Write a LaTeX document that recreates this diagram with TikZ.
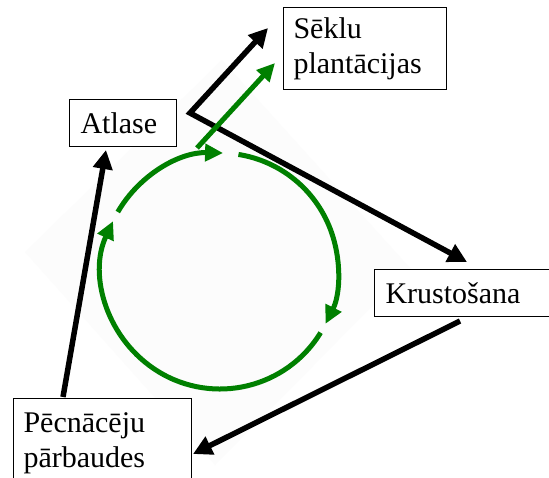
\documentclass[tikz,border=0pt]{standalone}
\usepackage{fontspec}
\setmainfont{Liberation Serif}
\usetikzlibrary{arrows.meta,calc}
\definecolor{cyclegreen}{RGB}{0,128,0}
\tikzset{
  box/.style={draw=black, line width=1pt, fill=white, inner ysep=0pt,
    font=\fontsize{30}{35}\selectfont},
  blk/.style={draw=black, line width=5.5pt, line join=miter,
    arrows={-Triangle[length=19pt,width=19pt]}},
  grn/.style={draw=cyclegreen, line width=5pt,
    arrows={-Triangle[length=18pt,width=17pt]}},
}
\begin{document}
\begin{tikzpicture}[x=1pt,y=-1pt]
\useasboundingbox (0,0) rectangle (549,477);
\clip (0,0) rectangle (549,477);
\fill[white] (0,0) rectangle (549,477);

% faint backdrop behind the cycle
\fill[black!1.2] (25,252) -- (222,60) -- (410,268) -- (215,465) -- cycle;

% stage boxes
\node[box, anchor=north west, minimum width=163pt, minimum height=82pt,
  text width=143pt, inner xsep=10pt, align=left] (seed) at (283,7)
  {Sēklu\\plantācijas};
\node[box, anchor=north west, minimum width=107pt, minimum height=47pt,
  text width=85pt, inner xsep=11pt, align=left] (atl) at (69,99) {Atlase};
\node[box, anchor=north west, minimum width=180pt, minimum height=47pt,
  text width=158pt, inner xsep=11pt, align=left] (krs) at (374,269)
  {Krustošana};
\node[box, anchor=north west, minimum width=178pt, minimum height=90pt,
  text width=158pt, inner xsep=10pt, align=left] (pec) at (13,398)
  {Pēcnācēju\\pārbaudes};

% breeding cycle
\coordinate (cc) at (220,271);
\draw[grn] ($(cc)+(-150:118)$) arc[start angle=-150, end angle=-88.5, radius=118];
\draw[grn] ($(cc)+(-81:118)$) arc[start angle=-81, end angle=26.6, radius=118];
\draw[grn] ($(cc)+(31.5:118)$) arc[start angle=31.5, end angle=205, radius=118];

% black connectors between stages
\coordinate (fork) at (190,113);
\draw[blk] ($(pec.north west)+(50,-1)$) -- ($(atl.south west)+(37,3)$);
\draw[blk, arrows={Triangle[length=19pt,width=19pt]-Triangle[length=19pt,width=19pt]}]
  ($(seed.north west)+(-15,21)$) -- (fork) -- ($(krs.north west)+(93,-7)$);
\draw[blk] ($(krs.south west)+(86,4)$) -- ($(pec.north east)+(1,56)$);

% output of the cycle towards seed orchards
\coordinate (gstart) at (197,148);
\draw[grn] (gstart) -- ($(seed.north west)+(-8,56)$);
\end{tikzpicture}
\end{document}
